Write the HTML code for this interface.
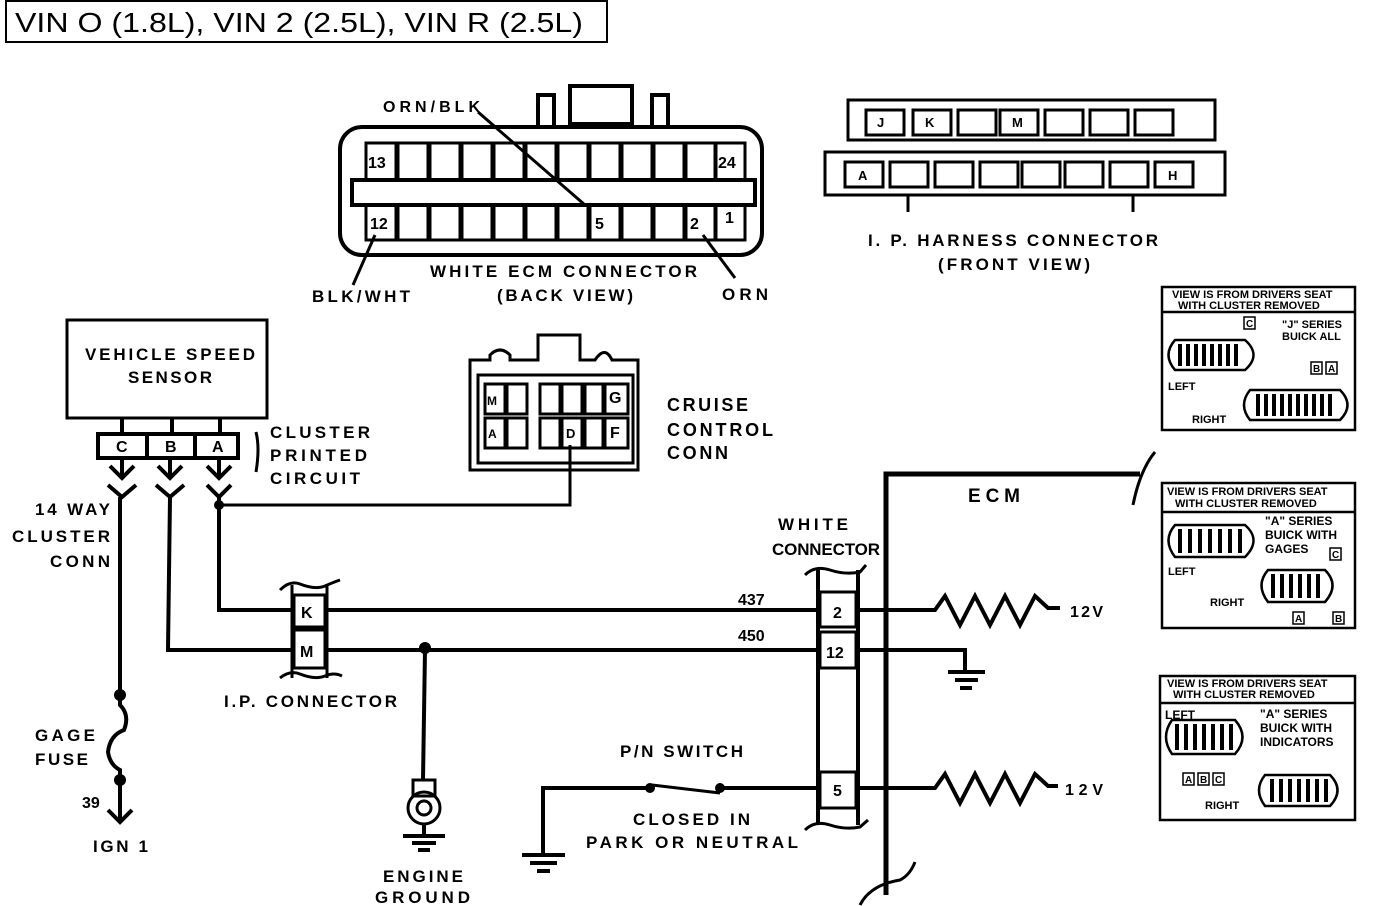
<!DOCTYPE html>
<html><head><style>
html,body{margin:0;padding:0;background:#fff;}
svg{display:block;}
text{font-family:"Liberation Sans",sans-serif;font-weight:bold;fill:#000;}
</style></head><body>
<svg width="1376" height="906" viewBox="0 0 1376 906" xmlns="http://www.w3.org/2000/svg">
<rect x="6" y="1" width="601" height="41" fill="none" stroke="#000" stroke-width="2"/>
<text x="15" y="32" font-size="28" style="font-weight:normal" textLength="568" lengthAdjust="spacingAndGlyphs">VIN O (1.8L), VIN 2 (2.5L), VIN R (2.5L)</text>

<g fill="none" stroke="#000" stroke-width="4">
<rect x="340" y="127" width="422" height="128" rx="22"/>
<rect x="538" y="95" width="16" height="32"/>
<rect x="652" y="95" width="16" height="32"/>
<rect x="570" y="86" width="62" height="38"/>
<rect x="352" y="180" width="403" height="25"/>
<g stroke-width="3">
<rect x="366" y="143" width="30" height="37"/><rect x="398" y="143" width="30" height="37"/><rect x="430" y="143" width="30" height="37"/><rect x="462" y="143" width="30" height="37"/><rect x="494" y="143" width="30" height="37"/><rect x="526" y="143" width="30" height="37"/><rect x="558" y="143" width="30" height="37"/><rect x="590" y="143" width="30" height="37"/><rect x="622" y="143" width="30" height="37"/><rect x="654" y="143" width="30" height="37"/><rect x="686" y="143" width="30" height="37"/><rect x="715" y="143" width="30" height="37"/>
<rect x="366" y="205" width="30" height="35"/><rect x="398" y="205" width="30" height="35"/><rect x="430" y="205" width="30" height="35"/><rect x="462" y="205" width="30" height="35"/><rect x="494" y="205" width="30" height="35"/><rect x="526" y="205" width="30" height="35"/><rect x="558" y="205" width="30" height="35"/><rect x="590" y="205" width="30" height="35"/><rect x="622" y="205" width="30" height="35"/><rect x="654" y="205" width="30" height="35"/><rect x="686" y="205" width="30" height="35"/><rect x="715" y="205" width="30" height="35"/>
</g>
<line x1="478" y1="112" x2="585" y2="205" stroke-width="3"/>
<line x1="353" y1="285" x2="375" y2="235" stroke-width="3"/>
<line x1="735" y1="278" x2="703" y2="235" stroke-width="3"/>

<path d="M848 108 L848 100 L1215 100 L1215 140 L848 140 Z" stroke-width="3"/>
<path d="M825 152 L1225 152 L1225 195 L825 195 Z" stroke-width="3"/>
<g stroke-width="3">
<rect x="866" y="110" width="38" height="25"/><rect x="913" y="110" width="38" height="25"/><rect x="958" y="110" width="38" height="25"/><rect x="1000" y="110" width="38" height="25"/><rect x="1045" y="110" width="38" height="25"/><rect x="1090" y="110" width="38" height="25"/><rect x="1135" y="110" width="38" height="25"/>
<rect x="845" y="162" width="38" height="25"/><rect x="890" y="162" width="38" height="25"/><rect x="935" y="162" width="38" height="25"/><rect x="980" y="162" width="38" height="25"/><rect x="1022" y="162" width="38" height="25"/><rect x="1065" y="162" width="38" height="25"/><rect x="1110" y="162" width="38" height="25"/><rect x="1155" y="162" width="38" height="25"/>
<line x1="908" y1="195" x2="908" y2="212"/><line x1="1133" y1="195" x2="1133" y2="212"/>
</g>

<rect x="67" y="320" width="200" height="98" stroke-width="3"/>
<line x1="122" y1="418" x2="122" y2="434"/><line x1="172" y1="418" x2="172" y2="434"/><line x1="220" y1="418" x2="220" y2="434"/>
<rect x="98" y="434" width="140" height="24" stroke-width="4"/>
<line x1="147" y1="434" x2="147" y2="458"/><line x1="195" y1="434" x2="195" y2="458"/>
<path d="M256 432 Q260 448 256 472" stroke-width="3"/>
<g stroke-width="4">
<line x1="122" y1="458" x2="122" y2="478"/><path d="M110 466 L122 478 L134 466"/><path d="M108 485 L122 497 L136 485"/>
<line x1="170" y1="458" x2="170" y2="478"/><path d="M158 466 L170 478 L182 466"/><path d="M156 485 L170 497 L184 485"/>
<line x1="219" y1="458" x2="219" y2="478"/><path d="M207 466 L219 478 L231 466"/><path d="M207 485 L219 497 L231 485"/>
</g>
<line x1="120" y1="497" x2="120" y2="695"/>
<path d="M120 695 L120 705 Q130 715 124 730 Q110 735 108 752 Q110 765 120 770 L120 822"/>
<path d="M108 810 L120 822 L132 810"/>
<path d="M170 497 L168 650 L292 650"/>
<path d="M219 497 L219 610 L292 610"/>
<path d="M219 505 L570 505 L570 445" stroke-width="3"/>
<line x1="292" y1="585" x2="292" y2="678" stroke-width="3"/><line x1="327" y1="585" x2="327" y2="678" stroke-width="3"/>
<rect x="294" y="595" width="31" height="32" stroke-width="3"/><rect x="294" y="630" width="31" height="38" stroke-width="3"/>
<path d="M280 590 Q290 580 300 584 Q315 590 325 586 Q334 582 340 580" stroke-width="3"/>
<path d="M280 678 Q290 670 300 674 Q315 680 325 676 Q334 672 342 676" stroke-width="3"/>
<line x1="327" y1="610" x2="820" y2="610"/>
<line x1="327" y1="650" x2="820" y2="650"/>
<line x1="425" y1="650" x2="423" y2="780"/>
<rect x="413" y="780" width="22" height="16" stroke-width="3"/>
<circle cx="424" cy="808" r="16" stroke-width="3"/><circle cx="424" cy="808" r="7" stroke-width="3"/>
<line x1="424" y1="824" x2="424" y2="836"/>
<line x1="403" y1="836" x2="445" y2="836"/><line x1="412" y1="843" x2="436" y2="843"/><line x1="418" y1="850" x2="430" y2="850"/>
<path d="M470 360 L490 360 L490 355 Q500 345 510 355 L510 360 L538 360 L538 335 L580 335 L580 360 L595 360 Q605 345 612 360 L638 360 L638 470 L470 470 Z" stroke-width="3"/>
<rect x="478" y="375" width="155" height="88" stroke-width="3"/>
<g stroke-width="3">
<rect x="485" y="384" width="20" height="30"/><rect x="507" y="384" width="20" height="30"/><rect x="540" y="384" width="20" height="30"/><rect x="562" y="384" width="20" height="30"/><rect x="585" y="384" width="18" height="30"/><rect x="605" y="384" width="23" height="30"/>
<rect x="485" y="418" width="20" height="30"/><rect x="507" y="418" width="20" height="30"/><rect x="540" y="418" width="20" height="30"/><rect x="562" y="418" width="20" height="30"/><rect x="585" y="418" width="18" height="30"/><rect x="605" y="418" width="23" height="30"/>
</g>
<line x1="818" y1="570" x2="818" y2="825" stroke-width="4"/><line x1="858" y1="570" x2="858" y2="825" stroke-width="4"/>
<path d="M805 575 Q815 565 830 570 Q845 575 860 572 L866 565" stroke-width="3"/>
<path d="M805 830 Q815 820 830 825 Q845 830 860 827 L868 820" stroke-width="3"/>
<rect x="820" y="592" width="36" height="35" stroke-width="3"/>
<rect x="820" y="632" width="36" height="36" stroke-width="3"/>
<rect x="820" y="772" width="36" height="36" stroke-width="3"/>
<path d="M886 895 L886 474 L1140 474" stroke-width="5"/>
<path d="M1133 505 Q1140 470 1155 452" stroke-width="3"/>
<path d="M860 905 Q870 885 900 880 Q910 875 915 862" stroke-width="3"/>
<path d="M858 610 L935 610 L945 596 L960 625 L975 596 L990 625 L1005 596 L1020 625 L1035 596 L1048 608 L1060 608"/>
<path d="M858 788 L935 788 L945 774 L960 803 L975 774 L990 803 L1005 774 L1020 803 L1035 774 L1048 786 L1058 786"/>
<path d="M858 650 L965 650 L965 672"/>
<line x1="948" y1="672" x2="985" y2="672"/><line x1="955" y1="680" x2="978" y2="680"/><line x1="960" y1="688" x2="972" y2="688"/>
<line x1="720" y1="788" x2="820" y2="788"/>
<line x1="652" y1="785" x2="720" y2="793" stroke-width="3"/>
<path d="M650 788 L543 788 L543 855"/>
<line x1="522" y1="855" x2="565" y2="855"/><line x1="530" y1="863" x2="557" y2="863"/><line x1="537" y1="871" x2="550" y2="871"/>
</g>
<g fill="#000">
<circle cx="120" cy="695" r="6"/><circle cx="120" cy="780" r="6"/><circle cx="219" cy="505" r="5"/><circle cx="425" cy="648" r="6"/>
<circle cx="650" cy="788" r="5"/><circle cx="720" cy="788" r="5"/>
</g>

<g font-size="17" lengthAdjust="spacingAndGlyphs">
<text x="383" y="112" font-size="16" textLength="97">ORN/BLK</text>
<text x="368" y="168" font-size="16">13</text><text x="718" y="168" font-size="16">24</text>
<text x="370" y="229" font-size="16">12</text><text x="595" y="229" font-size="16">5</text><text x="690" y="229" font-size="16">2</text><text x="725" y="223" font-size="16">1</text>
<text x="430" y="277" textLength="267">WHITE ECM CONNECTOR</text>
<text x="497" y="301" textLength="136">(BACK VIEW)</text>
<text x="312" y="302" textLength="98">BLK/WHT</text>
<text x="722" y="300" textLength="46">ORN</text>
<text x="877" y="127" font-size="13">J</text><text x="925" y="127" font-size="13">K</text><text x="1012" y="127" font-size="13">M</text>
<text x="858" y="180" font-size="13">A</text><text x="1168" y="180" font-size="13">H</text>
<text x="868" y="246" textLength="290">I. P. HARNESS CONNECTOR</text>
<text x="938" y="270" textLength="152">(FRONT VIEW)</text>
<text x="85" y="360" textLength="170">VEHICLE SPEED</text>
<text x="128" y="383" textLength="84">SENSOR</text>
<text x="116" y="452" font-size="16">C</text><text x="165" y="452" font-size="16">B</text><text x="212" y="452" font-size="16">A</text>
<text x="270" y="438" textLength="100">CLUSTER</text><text x="270" y="461" textLength="97">PRINTED</text><text x="270" y="484" textLength="90">CIRCUIT</text>
<text x="487" y="405" font-size="12">M</text><text x="609" y="403" font-size="16">G</text><text x="488" y="438" font-size="12">A</text><text x="566" y="438" font-size="13">D</text><text x="610" y="438" font-size="16">F</text>
<text x="667" y="411" font-size="18" textLength="81">CRUISE</text><text x="667" y="436" font-size="18" textLength="106">CONTROL</text><text x="667" y="459" font-size="18" textLength="61">CONN</text>
<text x="35" y="515" textLength="75">14 WAY</text><text x="12" y="542" textLength="98">CLUSTER</text><text x="50" y="567" textLength="60">CONN</text>
<text x="301" y="618" font-size="16">K</text><text x="300" y="657" font-size="16">M</text>
<text x="224" y="707" textLength="173">I.P. CONNECTOR</text>
<text x="35" y="741" textLength="60">GAGE</text><text x="35" y="765" textLength="53">FUSE</text>
<text x="82" y="808" font-size="16">39</text>
<text x="93" y="852" textLength="55">IGN 1</text>
<text x="383" y="882" textLength="80">ENGINE</text><text x="375" y="903" textLength="95">GROUND</text>
<text x="738" y="605" font-size="16">437</text><text x="738" y="641" font-size="16">450</text>
<text x="778" y="530" textLength="70">WHITE</text><text x="772" y="555" textLength="108">CONNECTOR</text>
<text x="968" y="502" font-size="19" textLength="52">ECM</text>
<text x="833" y="618" font-size="16">2</text><text x="826" y="658" font-size="16">12</text><text x="833" y="796" font-size="16">5</text>
<text x="1070" y="617" font-size="16" textLength="33">12V</text><text x="1065" y="795" font-size="16" textLength="38">12V</text>
<text x="620" y="757" textLength="123">P/N SWITCH</text>
<text x="633" y="825" textLength="117">CLOSED IN</text>
<text x="586" y="848" textLength="212">PARK OR NEUTRAL</text>
</g>

<g fill="none" stroke="#000" stroke-width="2.5">
<rect x="1162" y="287" width="193" height="143"/><line x1="1162" y1="312" x2="1355" y2="312"/>
<rect x="1162" y="483" width="193" height="145"/><line x1="1162" y1="512" x2="1355" y2="512"/>
<rect x="1160" y="676" width="195" height="144"/><line x1="1160" y1="703" x2="1355" y2="703"/>
<path d="M1175 340 L1245 340 Q1262 355 1245 370 L1175 370 Q1162 355 1175 340Z"/>
<path d="M1250 390 L1340 390 Q1355 405 1340 420 L1250 420 Q1238 405 1250 390Z"/>
<path d="M1175 525 L1245 525 Q1262 540 1245 557 L1175 557 Q1162 540 1175 525Z"/>
<path d="M1268 570 L1325 570 Q1340 585 1325 602 L1268 602 Q1255 585 1268 570Z"/>
<path d="M1172 720 L1235 720 Q1250 737 1235 754 L1172 754 Q1160 737 1172 720Z"/>
<path d="M1265 775 L1330 775 Q1345 790 1330 806 L1265 806 Q1253 790 1265 775Z"/>
<rect x="1244" y="317" width="11" height="12" stroke-width="1.5"/>
<rect x="1311" y="362" width="11" height="12" stroke-width="1.5"/><rect x="1326" y="362" width="11" height="12" stroke-width="1.5"/>
<rect x="1330" y="548" width="11" height="12" stroke-width="1.5"/><rect x="1293" y="612" width="11" height="12" stroke-width="1.5"/><rect x="1333" y="612" width="11" height="12" stroke-width="1.5"/>
<rect x="1183" y="773" width="11" height="12" stroke-width="1.5"/><rect x="1198" y="773" width="11" height="12" stroke-width="1.5"/><rect x="1213" y="773" width="11" height="12" stroke-width="1.5"/>
</g>
<g stroke="#000" stroke-width="4">
<line x1="1180" y1="344" x2="1180" y2="366"/><line x1="1188" y1="344" x2="1188" y2="366"/><line x1="1196" y1="344" x2="1196" y2="366"/><line x1="1204" y1="344" x2="1204" y2="366"/><line x1="1212" y1="344" x2="1212" y2="366"/><line x1="1220" y1="344" x2="1220" y2="366"/><line x1="1228" y1="344" x2="1228" y2="366"/><line x1="1236" y1="344" x2="1236" y2="366"/>
<line x1="1258" y1="394" x2="1258" y2="416"/><line x1="1266" y1="394" x2="1266" y2="416"/><line x1="1274" y1="394" x2="1274" y2="416"/><line x1="1282" y1="394" x2="1282" y2="416"/><line x1="1290" y1="394" x2="1290" y2="416"/><line x1="1298" y1="394" x2="1298" y2="416"/><line x1="1306" y1="394" x2="1306" y2="416"/><line x1="1314" y1="394" x2="1314" y2="416"/><line x1="1322" y1="394" x2="1322" y2="416"/><line x1="1330" y1="394" x2="1330" y2="416"/>
<line x1="1180" y1="529" x2="1180" y2="553"/><line x1="1190" y1="529" x2="1190" y2="553"/><line x1="1200" y1="529" x2="1200" y2="553"/><line x1="1210" y1="529" x2="1210" y2="553"/><line x1="1220" y1="529" x2="1220" y2="553"/><line x1="1230" y1="529" x2="1230" y2="553"/><line x1="1240" y1="529" x2="1240" y2="553"/>
<line x1="1273" y1="574" x2="1273" y2="598"/><line x1="1282" y1="574" x2="1282" y2="598"/><line x1="1291" y1="574" x2="1291" y2="598"/><line x1="1300" y1="574" x2="1300" y2="598"/><line x1="1309" y1="574" x2="1309" y2="598"/><line x1="1318" y1="574" x2="1318" y2="598"/>
<line x1="1177" y1="724" x2="1177" y2="750"/><line x1="1186" y1="724" x2="1186" y2="750"/><line x1="1195" y1="724" x2="1195" y2="750"/><line x1="1204" y1="724" x2="1204" y2="750"/><line x1="1213" y1="724" x2="1213" y2="750"/><line x1="1222" y1="724" x2="1222" y2="750"/><line x1="1231" y1="724" x2="1231" y2="750"/>
<line x1="1272" y1="779" x2="1272" y2="802"/><line x1="1281" y1="779" x2="1281" y2="802"/><line x1="1290" y1="779" x2="1290" y2="802"/><line x1="1299" y1="779" x2="1299" y2="802"/><line x1="1308" y1="779" x2="1308" y2="802"/><line x1="1317" y1="779" x2="1317" y2="802"/><line x1="1326" y1="779" x2="1326" y2="802"/>
</g>
<g font-size="11">
<text x="1172" y="298">VIEW IS FROM DRIVERS SEAT</text><text x="1178" y="309">WITH CLUSTER REMOVED</text>
<text x="1282" y="328">"J" SERIES</text><text x="1282" y="340">BUICK ALL</text>
<text x="1168" y="390">LEFT</text><text x="1192" y="423">RIGHT</text>
<text x="1246" y="327" font-size="10">C</text><text x="1313" y="372" font-size="10">B</text><text x="1328" y="372" font-size="10">A</text>
<text x="1167" y="495">VIEW IS FROM DRIVERS SEAT</text><text x="1175" y="507">WITH CLUSTER REMOVED</text>
<text x="1265" y="525" font-size="12">"A" SERIES</text><text x="1265" y="539" font-size="12">BUICK WITH</text><text x="1265" y="553" font-size="12">GAGES</text>
<text x="1168" y="575">LEFT</text><text x="1210" y="606">RIGHT</text>
<text x="1332" y="558" font-size="10">C</text><text x="1295" y="622" font-size="10">A</text><text x="1335" y="622" font-size="10">B</text>
<text x="1167" y="687">VIEW IS FROM DRIVERS SEAT</text><text x="1173" y="698">WITH CLUSTER REMOVED</text>
<text x="1165" y="719" font-size="12">LEFT</text>
<text x="1260" y="718" font-size="12">"A" SERIES</text><text x="1260" y="732" font-size="12">BUICK WITH</text><text x="1260" y="746" font-size="12">INDICATORS</text>
<text x="1185" y="783" font-size="10">A</text><text x="1200" y="783" font-size="10">B</text><text x="1215" y="783" font-size="10">C</text>
<text x="1205" y="809">RIGHT</text>
</g>
</svg>
</body></html>
